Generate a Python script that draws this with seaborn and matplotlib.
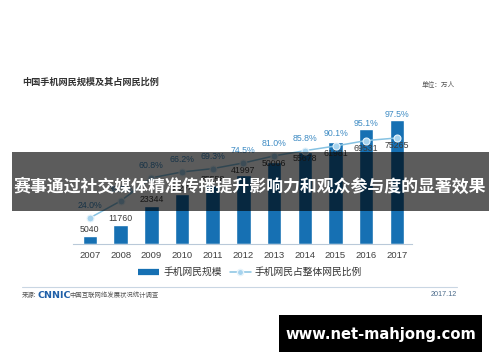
import numpy as np
import pandas as pd
import matplotlib
matplotlib.use("Agg")
import matplotlib.pyplot as plt
from matplotlib.lines import Line2D
from matplotlib.patches import Rectangle
import seaborn as sns

years = ["2007", "2008", "2009", "2010", "2011", "2012", "2013", "2014", "2015", "2016", "2017"]
users = [5040, 11760, 23344, 30274, 35558, 41997, 50006, 55678, 61981, 69531, 75265]
share = [24.0, 39.5, 60.8, 66.2, 69.3, 74.5, 81.0, 85.8, 90.1, 95.1, 97.5]

title = "中国手机网民规模及其占网民比例"
unit = "单位：万人"
legend_bar = "手机网民规模"
legend_line = "手机网民占整体网民比例"
source_pre = "来源:"
source_logo = "CNNIC"
source_txt = "中国互联网络发展状况统计调查"
date_txt = "2017.12"
banner = "赛事通过社交媒体精准传播提升影响力和观众参与度的显著效果"
site = "www.net-mahjong.com"

sns.set_theme(style="white")
plt.rcParams["font.family"] = ["Liberation Sans", "Noto Sans CJK SC", "DejaVu Sans"]
CJK = ["Noto Sans CJK SC", "DejaVu Sans"]

W, Hf = 500, 362
fig = plt.figure(figsize=(W / 100, Hf / 100), dpi=100)
fig.patch.set_facecolor("white")

ax_left, ax_right, ax_base, ax_h = 73, 412, 244, 150
ax = fig.add_axes([ax_left / W, (Hf - ax_base) / Hf, (ax_right - ax_left) / W, ax_h / Hf])

BAR = "#1670b3"
LINE = "#86c2e2"
PCTC = "#3f8cc4"

df = pd.DataFrame({"year": years, "users": users, "share": share})
sns.barplot(data=df, x="year", y="users", color=BAR, width=0.47, ax=ax, saturation=1)
bar_max = 91047
pct_max = 137.9
ax.set_ylim(0, bar_max)
ax.set_xlim(-0.55, len(years) - 0.51)

ax2 = ax.twinx()
xs = np.arange(len(years))
sns.lineplot(x=xs, y=share, ax=ax2, color=LINE, lw=1.1, marker="o", markersize=5,
             markerfacecolor="#a6d3ee", markeredgecolor="#e8f4fb", markeredgewidth=0.8)
ax2.set_ylim(0, pct_max)

for a in (ax, ax2):
    a.set_xlabel("")
    a.set_ylabel("")
    a.set_yticks([])
    for s in ("top", "left", "right"):
        a.spines[s].set_visible(False)
ax2.spines["bottom"].set_visible(False)
ax.spines["bottom"].set_color("#b9c9d9")
ax.spines["bottom"].set_linewidth(0.8)
ax.tick_params(axis="x", length=0, pad=5, labelsize=6.8, labelcolor="#404040")

ppb = ax_h / bar_max
ppp = ax_h / pct_max
for i in range(len(years)):
    bartop = users[i] * ppb
    mark = share[i] * ppp
    lab_h = min(bartop + 6, mark - 8)
    ax.annotate(f"{users[i]}", (i, lab_h / ppb), ha="center", va="center",
                fontsize=6.3, color="#3a3a3a")
    p_h = max(mark + 12, bartop + 6)
    ax2.annotate(f"{share[i]:.1f}%", (i, p_h / ppp), ha="center", va="center",
                 fontsize=6.3, color=PCTC)

# legend
h1 = Line2D([0], [0], color=BAR, lw=4.5, solid_capstyle="butt")
h2 = Line2D([0], [0], color=LINE, lw=1.1, marker="o", markersize=4.5,
            markerfacecolor="#a6d3ee", markeredgecolor="#e8f4fb")
leg = fig.legend([h1, h2], [legend_bar, legend_line], loc="center",
                 bbox_to_anchor=(250 / W, 1 - 272 / Hf), ncol=2, frameon=False,
                 prop={"family": CJK, "size": 7}, handlelength=2.2, columnspacing=0.8,
                 handletextpad=0.4)
for t in leg.get_texts():
    t.set_color("#333333")

# texts
fig.text(22 / W, 1 - 82 / Hf, title, family=CJK, fontsize=6.6, weight="bold",
         color="#333333", va="center", ha="left")
fig.text(422 / W, 1 - 85 / Hf, unit, family=CJK, fontsize=4.8, color="#555555",
         va="center", ha="left")
fig.add_artist(Line2D([22 / W, 457 / W], [1 - 287 / Hf, 1 - 287 / Hf], color="#c9d6e3", lw=0.8))
fig.text(22 / W, 1 - 295 / Hf, source_pre, family=CJK, fontsize=4.6, color="#555555",
         va="center", ha="left")
fig.text(38 / W, 1 - 295 / Hf, source_logo, family=["DejaVu Sans"], fontsize=6.8,
         weight="bold", color="#1f5fa8", va="center", ha="left")
fig.text(69 / W, 1 - 295 / Hf, source_txt, family=CJK, fontsize=4.6, color="#555555",
         va="center", ha="left")
fig.text(457 / W, 1 - 295 / Hf, date_txt, fontsize=5.2, color="#4a6a8a",
         va="center", ha="right")

# overlay banner
fig.add_artist(Rectangle((12 / W, 1 - 211 / Hf), (489 - 12) / W, (211 - 152) / Hf,
                         transform=fig.transFigure, facecolor="black", alpha=0.64,
                         edgecolor="none", zorder=10))
fig.text(250 / W, 1 - 187 / Hf, banner, family=CJK, fontsize=12.2, weight="bold",
         color="white", ha="center", va="center", zorder=11)

# site box
fig.add_artist(Rectangle((279 / W, 1 - 352 / Hf), (482 - 279) / W, (352 - 315) / Hf,
                         transform=fig.transFigure, facecolor="black", edgecolor="none",
                         zorder=10))
fig.text(380.5 / W, 1 - 334 / Hf, site, family=["DejaVu Sans"], fontsize=10.6,
         weight="bold", color="white", ha="center", va="center", zorder=11)

fig.savefig("out.png", dpi=100, facecolor="white")
